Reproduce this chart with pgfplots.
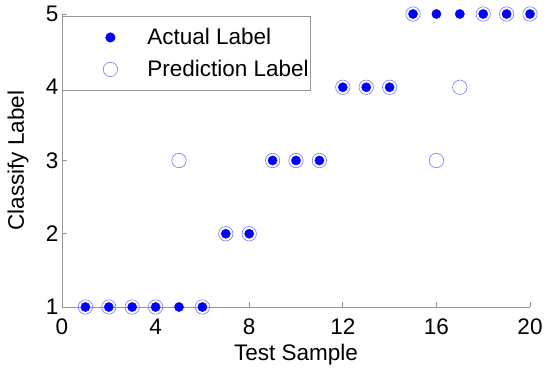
\documentclass[border=0pt]{standalone}
\usepackage{pgfplots}
\pgfplotsset{compat=1.18}
\usepackage{fontspec}
\setmainfont{Liberation Sans}
\definecolor{axgray}{RGB}{150,150,150}
\definecolor{circblue}{RGB}{120,120,255}
\begin{document}
\begin{tikzpicture}
\begin{axis}[
  scale only axis,
  width=468pt, height=293pt,
  xmin=0, xmax=20, ymin=1, ymax=5,
  xtick={0,4,8,12,16,20},
  ytick={1,2,3,4,5},
  axis lines*=left,
  axis line style={axgray, line width=0.8pt},
  tick style={axgray, line width=0.8pt},
  tick align=inside,
  major tick length=5pt,
  clip=false,
  font=\fontsize{22.5}{26}\selectfont,
  /pgf/number format/assume math mode=true,
  xticklabel style={anchor=center, yshift=-20pt},
  yticklabel style={anchor=east, xshift=0pt},
  xlabel={Test Sample},
  ylabel={Classify Label},
  xlabel style={at={(axis description cs:0.5,-0.164)}, anchor=center},
  ylabel style={at={(axis description cs:-0.094,0.5)}, anchor=center},
  legend style={at={(0,0.993)}, anchor=north west, draw=axgray, line width=0.8pt,
    font=\fontsize{22.5}{26}\selectfont, row sep=0pt, inner xsep=0pt, inner ysep=5pt},
  legend cell align=left,
  legend image code/.code={\path[draw=none,fill=none] (-48pt,-16pt) rectangle (35pt,16pt); \draw[#1] plot coordinates {(0pt,0pt)};},
]
\addplot[only marks, mark=*, mark size=4.6pt, blue, mark options={fill=blue, draw=blue}]
coordinates {(1,1)(2,1)(3,1)(4,1)(5,1)(6,1)(7,2)(8,2)(9,3)(10,3)(11,3)(12,4)(13,4)(14,4)(15,5)(16,5)(17,5)(18,5)(19,5)(20,5)};
\addlegendentry{Actual Label}
\addplot[only marks, mark=o, mark size=7.2pt, mark options={draw=circblue, line width=0.6pt}]
coordinates {(1,1)(2,1)(3,1)(4,1)(5,3)(6,1)(7,2)(8,2)(9,3)(10,3)(11,3)(12,4)(13,4)(14,4)(15,5)(16,3)(17,4)(18,5)(19,5)(20,5)};
\addlegendentry{Prediction Label}
\end{axis}
\path ([xshift=-62pt,yshift=-68pt]current axis.south west) rectangle ([xshift=20pt,yshift=14pt]current axis.north east);
\end{tikzpicture}
\end{document}
